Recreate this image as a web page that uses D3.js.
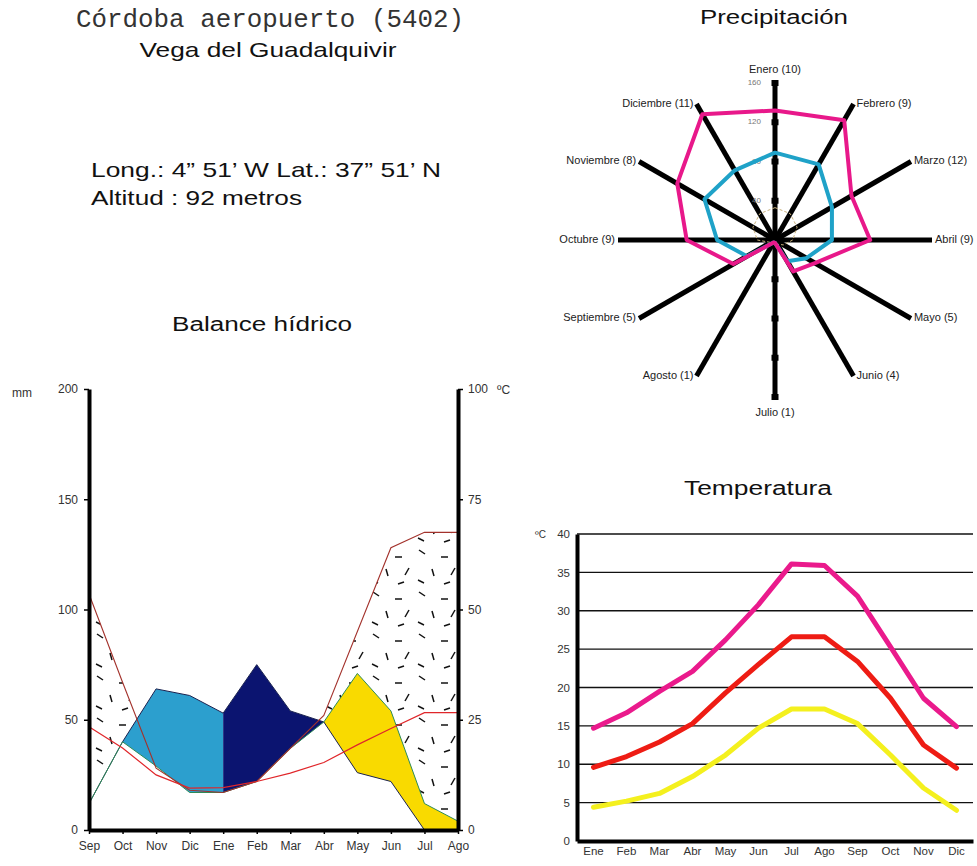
<!DOCTYPE html>
<html lang="es">
  <head>
    <meta charset="utf-8" />
    <script src="https://d3js.org/d3.v7.min.js"></script>
    <style>
      body {
        margin: 0;
        background: #fff;
      }
      text {
        font-family: "Liberation Sans", Arial, sans-serif;
      }
      .tick text {
        fill: #333;
      }
    </style>
    <title>Córdoba aeropuerto</title>
  </head>
  <body>
    <div id="chart"></div>
    <script>
      // ---------------------------//
      //       DATOS                //
      // ---------------------------//

      // Balance hídrico (año hidrológico Sep - Ago), en mm
      var mesesBalance = ["Sep", "Oct", "Nov", "Dic", "Ene", "Feb", "Mar", "Abr", "May", "Jun", "Jul", "Ago"];
      var precipBalance = [12, 40, 64, 61, 53, 75, 54, 49, 26, 22, 0, 0];
      var etp = [107, 67, 28, 18, 17, 22, 37, 52, 90, 128, 135, 135];
      var etr = [12, 40, 29, 17, 17, 22, 37, 49, 71, 54, 12, 4];

      // Temperatura (ºC)
      var mesesTemp = ["Ene", "Feb", "Mar", "Abr", "May", "Jun", "Jul", "Ago", "Sep", "Oct", "Nov", "Dic"];
      var tempMax = [14.7, 16.7, 19.5, 22.1, 26.2, 30.8, 36.1, 35.9, 31.9, 25.3, 18.6, 14.9];
      var tempMedia = [9.6, 11.0, 12.9, 15.3, 19.3, 23.0, 26.6, 26.6, 23.4, 18.6, 12.5, 9.5];
      var tempMin = [4.4, 5.2, 6.2, 8.4, 11.2, 14.7, 17.2, 17.2, 15.3, 11.2, 6.9, 4.0];

      // Precipitación (mm) y días de lluvia
      var mesesRadar = ["Enero", "Febrero", "Marzo", "Abril", "Mayo", "Junio", "Julio", "Agosto", "Septiembre", "Octubre", "Noviembre", "Diciembre"];
      var diasLluvia = [10, 9, 12, 9, 5, 4, 1, 1, 5, 9, 8, 11];
      var precipMaxima = [132, 141, 90, 97, 47, 37, 3, 3, 49, 90, 115, 148];
      var precipMedia = [89, 89, 67, 58, 37, 25, 3, 3, 33, 59, 83, 82];
      var precipMinima = [33, 31, 26, 18, 10, 5, 2, 2, 5, 18, 26, 31];
      var radarTicks = [40, 80, 120, 160];

      var width = 977,
        height = 866;

      var svg = d3
        .select("#chart")
        .append("svg")
        .attr("width", width)
        .attr("height", height)
        .style("background", "#fff");

      // texto ensanchado como en el original
      var titulo = function (x, y, anchor, size, len, txt) {
        return svg
          .append("text")
          .attr("x", x)
          .attr("y", y)
          .attr("text-anchor", anchor)
          .attr("textLength", len)
          .attr("lengthAdjust", "spacingAndGlyphs")
          .style("font-size", size + "px")
          .style("fill", "#111")
          .text(txt);
      };

      // ---------------------------//
      //       CABECERA             //
      // ---------------------------//

      titulo(270, 27, "middle", 25, 388, "Córdoba aeropuerto (5402)")
        .style("font-family", "'Courier New', 'Liberation Mono', monospace")
        .style("fill", "#333");
      titulo(268, 57, "middle", 21, 257, "Vega del Guadalquivir");
      titulo(91, 177, "start", 21, 350, "Long.: 4\u201d 51\u2019 W Lat.: 37\u201d 51\u2019 N");
      titulo(91, 205, "start", 21, 211, "Altitud : 92 metros");

      // ---------------------------//
      //       BALANCE HÍDRICO      //
      // ---------------------------//

      var bal = svg.append("g");

      titulo(262, 331, "middle", 20, 180, "Balance hídrico");

      var xB = d3.scalePoint().domain(mesesBalance).range([89, 458]);
      var yMm = d3.scaleLinear().domain([0, 200]).range([830, 389]);
      var yC = d3.scaleLinear().domain([0, 100]).range([830, 389]);

      // trama del déficit
      var defs = svg.append("defs");
      var pat = defs
        .append("pattern")
        .attr("id", "deficit")
        .attr("patternUnits", "userSpaceOnUse")
        .attr("width", 46)
        .attr("height", 42);
      [
        [5, 4, 11, 8],
        [27, 11, 34, 11],
        [18, 23, 20, 30],
        [37, 29, 41, 22],
        [4, 34, 10, 37],
        [30, 38, 36, 36],
      ].forEach(function (s) {
        pat
          .append("line")
          .attr("x1", s[0])
          .attr("y1", s[1])
          .attr("x2", s[2])
          .attr("y2", s[3])
          .attr("stroke", "#111")
          .attr("stroke-width", 1.5);
      });

      var idx = d3.range(mesesBalance.length);
      var areaEntre = function (lo, hi) {
        return d3
          .area()
          .x(function (i) {
            return xB(mesesBalance[i]);
          })
          .y0(function (i) {
            return yMm(lo[i]);
          })
          .y1(function (i) {
            return yMm(hi[i]);
          });
      };

      // déficit: entre ETR y ETP
      bal
        .append("path")
        .attr("d", areaEntre(etr, etp)(idx))
        .attr("fill", "url(#deficit)");

      // recarga
      bal
        .append("path")
        .attr("d", areaEntre(etr, precipBalance)(idx.slice(1, 5)))
        .attr("fill", "#2c9fce");

      // superávit
      bal
        .append("path")
        .attr("d", areaEntre(etr, precipBalance)(idx.slice(4, 8)))
        .attr("fill", "#0b1470");

      // utilización de la reserva
      bal
        .append("path")
        .attr("d", areaEntre(precipBalance, etr)(idx.slice(7)))
        .attr("fill", "#f9da00");

      var lineaMm = function (vals) {
        return d3
          .line()
          .x(function (d, i) {
            return xB(mesesBalance[i]);
          })
          .y(function (d) {
            return yMm(d);
          })(vals);
      };

      bal
        .append("path")
        .attr("d", lineaMm(precipBalance))
        .attr("fill", "none")
        .attr("stroke", "#1a2250")
        .attr("stroke-width", 1);

      bal
        .append("path")
        .attr("d", lineaMm(etr))
        .attr("fill", "none")
        .attr("stroke", "#2e8b57")
        .attr("stroke-width", 1);

      bal
        .append("path")
        .attr("d", lineaMm(etp))
        .attr("fill", "none")
        .attr("stroke", "#a3322c")
        .attr("stroke-width", 1.1);

      // temperatura media sobre el eje derecho
      var tempBalance = mesesBalance.map(function (m) {
        return tempMedia[mesesTemp.indexOf(m)];
      });
      bal
        .append("path")
        .attr(
          "d",
          d3
            .line()
            .x(function (d, i) {
              return xB(mesesBalance[i]);
            })
            .y(function (d) {
              return yC(d);
            })(tempBalance)
        )
        .attr("fill", "none")
        .attr("stroke", "#e0262a")
        .attr("stroke-width", 1.2);

      // ejes
      var axL = bal
        .append("g")
        .attr("transform", "translate(89,0)")
        .call(d3.axisLeft(yMm).tickValues([0, 50, 100, 150, 200]).tickSize(5).tickSizeOuter(0).tickPadding(6));
      var axR = bal
        .append("g")
        .attr("transform", "translate(458,0)")
        .call(d3.axisRight(yC).tickValues([0, 25, 50, 75, 100]).tickSize(5).tickSizeOuter(0).tickPadding(5));
      var axB = bal
        .append("g")
        .attr("transform", "translate(0,830)")
        .call(d3.axisBottom(xB).tickSize(4).tickSizeOuter(0).tickPadding(7));

      [axL, axR, axB].forEach(function (a) {
        a.select(".domain").attr("stroke-width", 4).attr("stroke", "#000");
        a.selectAll(".tick line").attr("stroke-width", 1.5);
        a.selectAll(".tick text").style("font-size", "12px").style("font-family", "'Liberation Sans', Arial, sans-serif");
      });

      bal
        .append("text")
        .attr("x", 12)
        .attr("y", 397)
        .style("font-size", "12px")
        .style("fill", "#333")
        .text("mm");
      bal
        .append("text")
        .attr("x", 497)
        .attr("y", 394)
        .style("font-size", "12px")
        .style("fill", "#333")
        .text("ºC");

      // ---------------------------//
      //       PRECIPITACIÓN        //
      // ---------------------------//

      var cx = 775,
        cy = 240;
      var rad = svg.append("g").attr("transform", "translate(" + cx + "," + cy + ")");

      titulo(774, 24, "middle", 20, 148, "Precipitación");

      var r = d3.scaleLinear().domain([0, 160]).range([0, 157]);
      var ang = function (i) {
        return (i * 2 * Math.PI) / mesesRadar.length;
      };
      var rMax = r(d3.max(radarTicks));

      // radios
      rad
        .selectAll("line.spoke")
        .data(mesesRadar)
        .enter()
        .append("line")
        .attr("class", "spoke")
        .attr("x1", 0)
        .attr("y1", 0)
        .attr("x2", function (d, i) {
          return rMax * Math.sin(ang(i));
        })
        .attr("y2", function (d, i) {
          return -rMax * Math.cos(ang(i));
        })
        .attr("stroke", "#000")
        .attr("stroke-width", 5);

      // marcas del eje vertical
      var marcas = [];
      radarTicks.forEach(function (t) {
        marcas.push(t, -t);
      });
      rad
        .selectAll("rect.marca")
        .data(marcas)
        .enter()
        .append("rect")
        .attr("class", "marca")
        .attr("x", -3.5)
        .attr("y", function (d) {
          return -r(d) - 3;
        })
        .attr("width", 7)
        .attr("height", 6)
        .attr("fill", "#000");

      rad
        .selectAll("text.rtick")
        .data(radarTicks)
        .enter()
        .append("text")
        .attr("class", "rtick")
        .attr("x", -14)
        .attr("y", function (d) {
          return -r(d);
        })
        .attr("text-anchor", "end")
        .attr("dominant-baseline", "middle")
        .style("font-size", "8px")
        .style("fill", "#777")
        .text(function (d) {
          return d;
        });

      var radial = d3
        .lineRadial()
        .angle(function (d, i) {
          return ang(i);
        })
        .radius(function (d) {
          return r(d);
        })
        .curve(d3.curveLinearClosed);

      rad
        .append("path")
        .attr("d", radial(precipMinima))
        .attr("fill", "none")
        .attr("stroke", "#c9b27e")
        .attr("stroke-width", 1)
        .attr("stroke-dasharray", "3,2");

      rad
        .append("path")
        .attr("d", radial(precipMedia))
        .attr("fill", "none")
        .attr("stroke", "#1fa2c8")
        .attr("stroke-width", 4)
        .attr("stroke-linejoin", "round");

      rad
        .append("path")
        .attr("d", radial(precipMaxima))
        .attr("fill", "none")
        .attr("stroke", "#e8188a")
        .attr("stroke-width", 4)
        .attr("stroke-linejoin", "round");

      // etiquetas de meses
      rad
        .selectAll("text.mes")
        .data(mesesRadar)
        .enter()
        .append("text")
        .attr("class", "mes")
        .attr("x", function (d, i) {
          var s = Math.sin(ang(i));
          return rMax * s + (s > 0.1 ? 3 : s < -0.1 ? -3 : 0);
        })
        .attr("y", function (d, i) {
          var c = Math.cos(ang(i));
          return -rMax * c + (c > 0.9 ? -13 : c < -0.9 ? 16 : 0);
        })
        .attr("text-anchor", function (d, i) {
          var s = Math.sin(ang(i));
          return s > 0.1 ? "start" : s < -0.1 ? "end" : "middle";
        })
        .attr("dominant-baseline", "middle")
        .style("font-size", "11px")
        .style("fill", "#222")
        .text(function (d, i) {
          return d + " (" + diasLluvia[i] + ")";
        });

      // ---------------------------//
      //       TEMPERATURA          //
      // ---------------------------//

      var tem = svg.append("g");

      titulo(758, 495, "middle", 20, 148, "Temperatura");

      var xT = d3.scaleBand().domain(mesesTemp).range([577, 973]);
      var yT = d3.scaleLinear().domain([0, 40]).range([841, 534]);

      tem
        .selectAll("line.grid")
        .data(yT.ticks(8).filter(function (d) {
          return d > 0;
        }))
        .enter()
        .append("line")
        .attr("class", "grid")
        .attr("x1", 577)
        .attr("x2", 973)
        .attr("y1", function (d) {
          return yT(d);
        })
        .attr("y2", function (d) {
          return yT(d);
        })
        .attr("stroke", "#111")
        .attr("stroke-width", 1.3);

      var lineaT = d3
        .line()
        .x(function (d, i) {
          return xT(mesesTemp[i]) + xT.bandwidth() / 2;
        })
        .y(function (d) {
          return yT(d);
        });

      [
        [tempMin, "#f4f01e"],
        [tempMedia, "#ee1c14"],
        [tempMax, "#ea1a8c"],
      ].forEach(function (s) {
        tem
          .append("path")
          .attr("d", lineaT(s[0]))
          .attr("fill", "none")
          .attr("stroke", s[1])
          .attr("stroke-width", 5)
          .attr("stroke-linejoin", "round")
          .attr("stroke-linecap", "round");
      });

      var tL = tem
        .append("g")
        .attr("transform", "translate(577,0)")
        .call(d3.axisLeft(yT).ticks(8).tickSize(0).tickPadding(7));
      var tB = tem
        .append("g")
        .attr("transform", "translate(0,841)")
        .call(d3.axisBottom(xT).tickSize(0).tickPadding(6));
      [tL, tB].forEach(function (a) {
        a.select(".domain").attr("stroke-width", 4).attr("stroke", "#000");
        a.selectAll(".tick text").style("font-size", "11.5px").style("font-family", "'Liberation Sans', Arial, sans-serif");
      });

      tem
        .append("text")
        .attr("x", 535)
        .attr("y", 538)
        .style("font-size", "10px")
        .style("fill", "#333")
        .text("ºC");
    </script>
  </body>
</html>
